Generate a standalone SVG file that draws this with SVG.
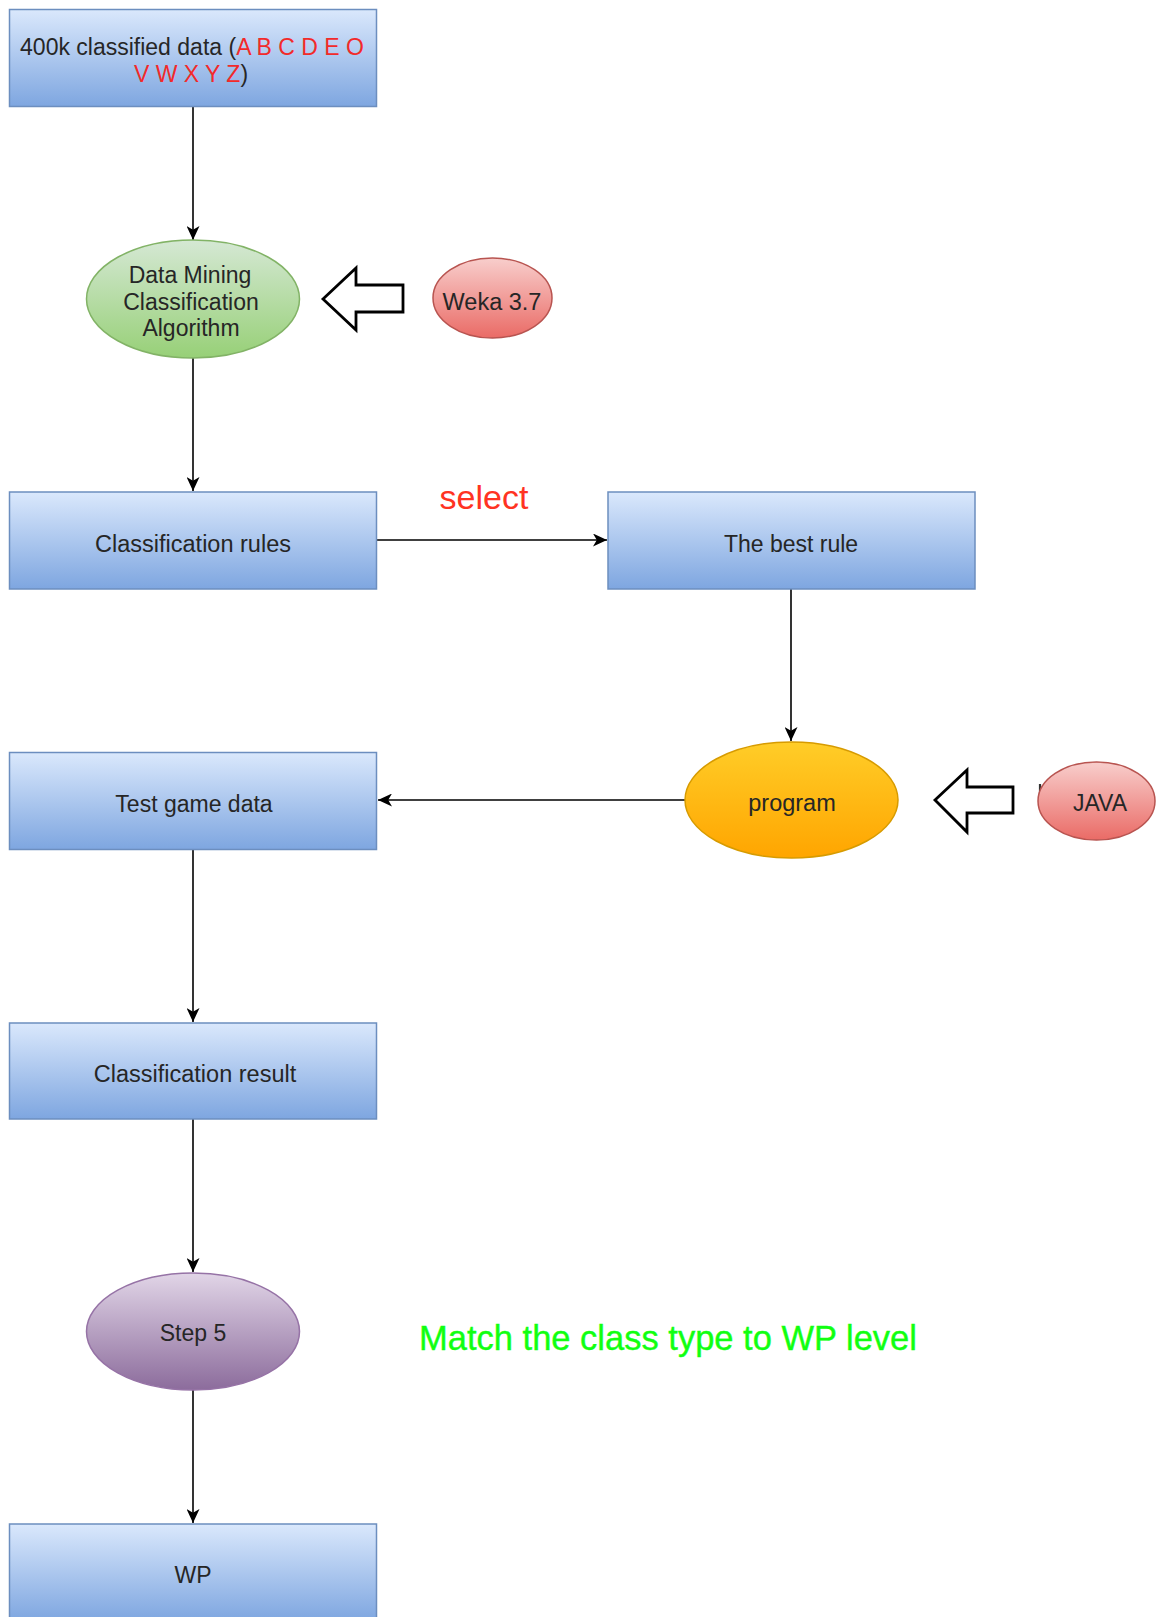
<svg xmlns="http://www.w3.org/2000/svg" width="1159" height="1617" viewBox="0 0 1159 1617">
  <defs>
    <linearGradient id="gBlue" x1="0" y1="0" x2="0" y2="1">
      <stop offset="0" stop-color="#dae8fc"/>
      <stop offset="1" stop-color="#7ea6e0"/>
    </linearGradient>
    <linearGradient id="gGreen" x1="0" y1="0" x2="0" y2="1">
      <stop offset="0" stop-color="#d5e8d4"/>
      <stop offset="1" stop-color="#97d077"/>
    </linearGradient>
    <linearGradient id="gRed" x1="0" y1="0" x2="0" y2="1">
      <stop offset="0" stop-color="#f8cecc"/>
      <stop offset="1" stop-color="#ea6b66"/>
    </linearGradient>
    <linearGradient id="gOrange" x1="0" y1="0" x2="0" y2="1">
      <stop offset="0" stop-color="#ffcd28"/>
      <stop offset="1" stop-color="#ffa500"/>
    </linearGradient>
    <linearGradient id="gPurple" x1="0" y1="0" x2="0" y2="1">
      <stop offset="0" stop-color="#e1d5e7"/>
      <stop offset="1" stop-color="#8c6c9c"/>
    </linearGradient>
    <marker id="arrow" markerUnits="userSpaceOnUse" viewBox="0 0 14 13" refX="14" refY="6.5" markerWidth="14" markerHeight="13" orient="auto">
      <path d="M0,0 L14,6.5 L0,13 L3.8,6.5 Z" fill="#000"/>
    </marker>
  </defs>
  <style>
    text { font-family: "Liberation Sans", Arial, sans-serif; font-size: 23px; fill: #262626; text-anchor: middle; }
    .box { fill: url(#gBlue); stroke: #6c8ebf; stroke-width: 1.5; }
    .red { fill: #f22a2a; }
    .edge { fill: none; stroke: #000; stroke-width: 1.6; marker-end: url(#arrow); }
    .hollow { fill: #fff; stroke: #000; stroke-width: 2.8; stroke-linejoin: miter; }
  </style>

  <!-- connectors -->
  <g id="connectors">
    <path class="edge" d="M193,107 L193,240"/>
    <path class="edge" d="M193,358 L193,491"/>
    <path class="edge" d="M377,540 L607,540"/>
    <path class="edge" d="M791,589 L791,741"/>
    <path class="edge" d="M685,800 L378,800"/>
    <path class="edge" d="M193,849 L193,1022"/>
    <path class="edge" d="M193,1119 L193,1272"/>
    <path class="edge" d="M193,1390 L193,1523"/>
    <path d="M1040,784 L1040,800" stroke="#333" stroke-width="2.2" fill="none"/>
  </g>

  <!-- 400k classified data -->
  <g id="node-data">
    <rect class="box" x="9.5" y="9.5" width="367" height="97"/>
    <text x="192" y="55">400k classified data (<tspan class="red">A B C D E O</tspan></text>
    <text x="191" y="82"><tspan class="red">V W X Y Z</tspan>)</text>
  </g>

  <!-- Data mining classification algorithm -->
  <g id="node-algorithm">
    <ellipse cx="193" cy="299" rx="106.5" ry="59" fill="url(#gGreen)" stroke="#82b366" stroke-width="1.5"/>
    <text x="190" y="283">Data Mining</text>
    <text x="191" y="310">Classification</text>
    <text x="191" y="336">Algorithm</text>
  </g>

  <!-- hollow arrow from Weka -->
  <g id="node-arrow-weka">
    <polygon class="hollow" points="323,299 356,268 356,285 403,285 403,312 356,312 356,330"/>
  </g>

  <g id="node-weka">
    <ellipse cx="492.5" cy="298" rx="59.5" ry="40" fill="url(#gRed)" stroke="#b85450" stroke-width="1.5"/>
    <text x="492" y="310" style="font-size:23.5px">Weka 3.7</text>
  </g>

  <!-- select label -->
  <g id="label-select">
    <text x="484" y="509" style="font-size:34px;fill:#ff3322">select</text>
  </g>

  <g id="node-rules">
    <rect class="box" x="9.5" y="492" width="367" height="97"/>
    <text x="193" y="551.5" style="font-size:23.5px">Classification rules</text>
  </g>

  <g id="node-best">
    <rect class="box" x="608" y="492" width="367" height="97"/>
    <text x="791" y="551.5">The best rule</text>
  </g>

  <g id="node-program">
    <ellipse cx="791.5" cy="800" rx="106.5" ry="58" fill="url(#gOrange)" stroke="#d79b00" stroke-width="1.5"/>
    <text x="792" y="811" style="font-size:23.5px">program</text>
  </g>

  <g id="node-arrow-java">
    <polygon class="hollow" points="935,800 967,770 967,787 1013,787 1013,813 967,813 967,832"/>
  </g>

  <g id="node-java">
    <ellipse cx="1096.5" cy="801" rx="58.5" ry="39" fill="url(#gRed)" stroke="#b85450" stroke-width="1.5"/>
    <text x="1100" y="811">JAVA</text>
  </g>

  <g id="node-test">
    <rect class="box" x="9.5" y="752.5" width="367" height="97"/>
    <text x="194" y="812">Test game data</text>
  </g>

  <g id="node-result">
    <rect class="box" x="9.5" y="1023" width="367" height="96"/>
    <text x="195" y="1082" style="font-size:23.5px">Classification result</text>
  </g>

  <g id="node-step5">
    <ellipse cx="193" cy="1331.5" rx="106.5" ry="58.5" fill="url(#gPurple)" stroke="#9673a6" stroke-width="1.5"/>
    <text x="193" y="1341">Step 5</text>
  </g>

  <g id="label-match">
    <text x="668" y="1350" style="font-size:34.5px;fill:#11ff11;stroke:#11ff11;stroke-width:0.4">Match the class type to WP level</text>
  </g>

  <g id="node-wp">
    <rect class="box" x="9.5" y="1524" width="367" height="97"/>
    <text x="193" y="1583">WP</text>
  </g>
</svg>
